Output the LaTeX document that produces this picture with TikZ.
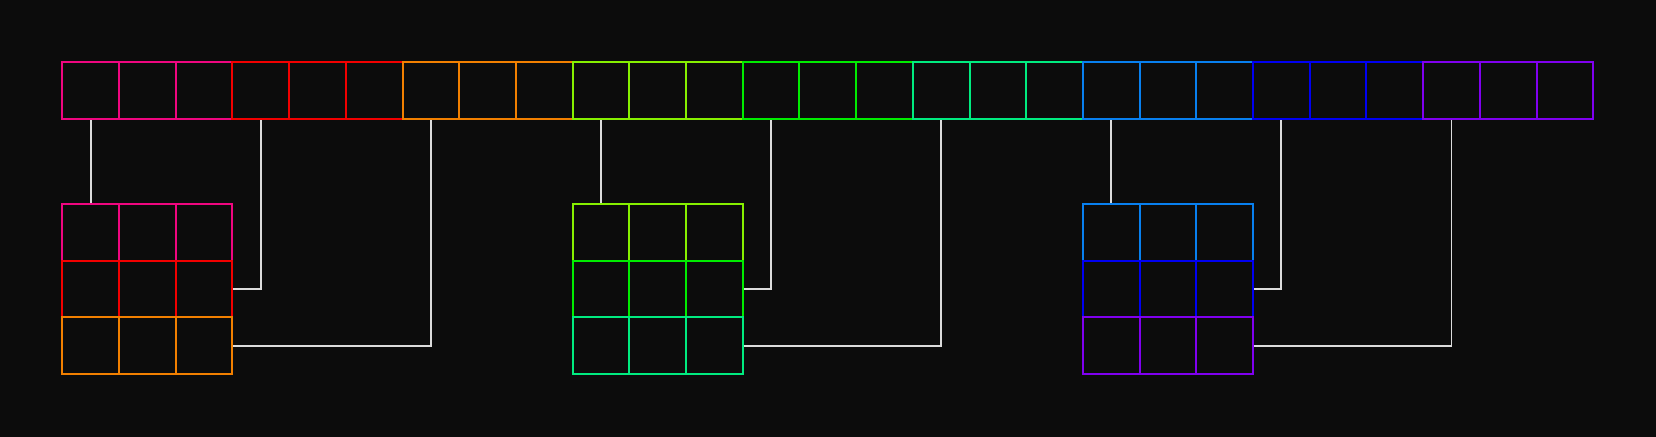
\documentclass[tikz,border=0pt]{standalone}
\usetikzlibrary{positioning}

\definecolor{bgcol}{HTML}{0C0C0C}
\definecolor{linkcol}{HTML}{DCDCDC}
\definecolor{hpink}{HTML}{F00680}
\definecolor{hred}{HTML}{F20000}
\definecolor{horange}{HTML}{F28000}
\definecolor{hlime}{HTML}{86F000}
\definecolor{hgreen}{HTML}{00EC00}
\definecolor{hspring}{HTML}{00EC80}
\definecolor{hazure}{HTML}{0880F0}
\definecolor{hblue}{HTML}{0000F2}
\definecolor{hviolet}{HTML}{8000F0}

\tikzset{
	cell/.style={draw, line width=2pt, minimum size=2cm, inner sep=0pt, fill=bgcol},
	link/.style={linkcol, line width=2pt}
}

\begin{document}
\begin{tikzpicture}[x=2cm, y=2cm]
		\fill[bgcol] (-1.099, 1.099) rectangle (28.107, -6.608);
		\useasboundingbox (-1.099, 1.099) rectangle (28.107, -6.608);
		% flat row of cells and the three 3x3 blocks
		\foreach \col [count=\h from 0] in {hpink,hred,horange,hlime,hgreen,hspring,hazure,hblue,hviolet} {
			\pgfmathtruncatemacro{\k}{int(\h/3)}
			\pgfmathtruncatemacro{\r}{mod(\h,3)}
			\foreach \j in {0,1,2} {
				\pgfmathtruncatemacro{\i}{3*\h+\j}
				\node[cell, draw=\col] (t\i) at (\i+0.5, -0.5) {};
				\node[cell, draw=\col] (g\k\r\j) at (9*\k+\j+0.5, -3-\r) {};
			}
		}
		% links from the row down to the blocks
		\foreach \k in {0,1,2} {
			\pgfmathtruncatemacro{\a}{9*\k}
			\pgfmathtruncatemacro{\b}{9*\k+3}
			\pgfmathtruncatemacro{\c}{9*\k+6}
			\draw[link] (t\a.south) -- (g\k00.north);
			\draw[link] (t\b.south) |- (g\k12.east);
			\draw[link] (t\c.south) |- (g\k22.east);
		}
	\end{tikzpicture}
\end{document}
